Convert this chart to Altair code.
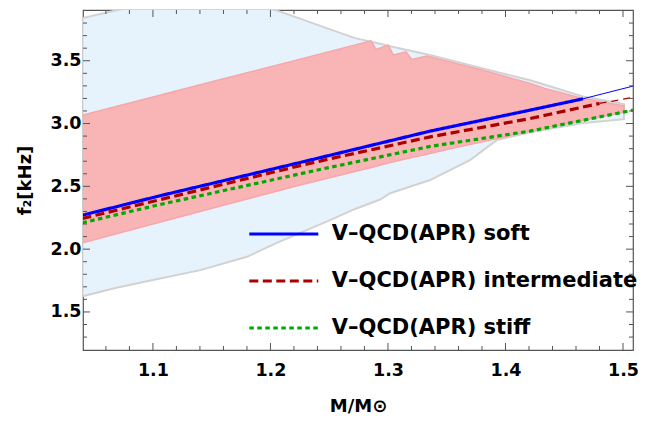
import altair as alt
import pandas as pd

FONT = "DejaVu Sans"
AX = "#555555"

X_DOMAIN = [1.0405, 1.5085]
Y_DOMAIN = [1.197, 3.904]

# light-blue region (lower / upper boundary at the same masses)
blue_M = [1.04, 1.068, 1.10, 1.1404, 1.18, 1.2054, 1.2253, 1.2508, 1.272, 1.2933,
          1.3018, 1.3358, 1.3698, 1.3925, 1.421, 1.466, 1.5008]
blue_lo = [1.625, 1.69, 1.755, 1.833, 1.939, 2.05, 2.13, 2.231, 2.32, 2.395,
           2.445, 2.55, 2.709, 2.868, 2.93, 3.005, 3.035]
blue_hi = [3.84, 3.90, 3.96, 3.99, 3.96, 3.90, 3.835, 3.75, 3.68, 3.635,
           3.615, 3.545, 3.465, 3.41, 3.345, 3.215, 3.155]

# pink band
red_M = [1.04, 1.10, 1.16, 1.2253, 1.2856, 1.2898, 1.3003, 1.3046, 1.3154, 1.3202,
         1.333, 1.353, 1.3785, 1.421, 1.4335, 1.466, 1.501]
red_lo = [2.05, 2.20, 2.35, 2.51, 2.65, 2.66, 2.685, 2.695, 2.72, 2.73,
          2.755, 2.80, 2.85, 2.94, 2.965, 3.025, 3.09]
red_hi = [3.067, 3.212, 3.356, 3.513, 3.658, 3.59, 3.624, 3.545, 3.571, 3.51,
          3.537, 3.49, 3.43, 3.32, 3.28, 3.20, 3.14]

series_names = ["V\u2013QCD(APR) soft", "V\u2013QCD(APR) intermediate", "V\u2013QCD(APR) stiff"]
series_colors = ["#0000ff", "#aa0000", "#00aa00"]
series_dash = [[1, 0], [9, 4.5], [4.5, 3.5]]

soft_M = [1.04, 1.106, 1.2253, 1.336, 1.421, 1.466]
soft_f = [2.27, 2.425, 2.69, 2.94, 3.107, 3.197]
soft_thin_M = [1.466, 1.5085]
soft_thin_f = [3.197, 3.298]

inter_M = [1.04, 1.2253, 1.251, 1.336, 1.421, 1.48]
inter_f = [2.244, 2.665, 2.72, 2.894, 3.04, 3.16]
inter_thin_M = [1.48, 1.5085]
inter_thin_f = [3.16, 3.208]

stiff_M = [1.04, 1.106, 1.2253, 1.251, 1.336, 1.421, 1.5085]
stiff_f = [2.21, 2.355, 2.6, 2.652, 2.818, 2.94, 3.107]

x_major = [1.1, 1.2, 1.3, 1.4, 1.5]
x_minor = [1.06, 1.08, 1.12, 1.14, 1.16, 1.18, 1.22, 1.24, 1.26, 1.28,
           1.32, 1.34, 1.36, 1.38, 1.42, 1.44, 1.46, 1.48]
y_major = [1.5, 2.0, 2.5, 3.0, 3.5]
y_minor = [1.3, 1.4, 1.6, 1.7, 1.8, 1.9, 2.1, 2.2, 2.3, 2.4, 2.6, 2.7, 2.8, 2.9,
           3.1, 3.2, 3.3, 3.4, 3.6, 3.7, 3.8]

W, H = 550, 340
MAJOR, MINOR = 7, 4

df_blue = pd.DataFrame({"M": blue_M, "lo": blue_lo, "hi": blue_hi})
df_red = pd.DataFrame({"M": red_M, "lo": red_lo, "hi": red_hi})

rows = []
for name, ms, fs in [(series_names[0], soft_M, soft_f),
                     (series_names[1], inter_M, inter_f),
                     (series_names[2], stiff_M, stiff_f)]:
    for m, f in zip(ms, fs):
        rows.append({"M": m, "f": f, "series": name})
df_thick = pd.DataFrame(rows)
df_soft_thin = pd.DataFrame({"M": soft_thin_M, "f": soft_thin_f})
df_inter_thin = pd.DataFrame({"M": inter_thin_M, "f": inter_thin_f})

xs = alt.Scale(domain=X_DOMAIN, nice=False, zero=False)
ys = alt.Scale(domain=Y_DOMAIN, nice=False, zero=False)

x_label_axis = alt.Axis(orient="bottom", values=x_major, format=".1f", ticks=False, tickSize=0,
                        domain=False, grid=False,
                        labelFont=FONT, labelFontWeight="bold", labelFontSize=17.5,
                        labelColor="black", labelPadding=11, labelFlush=False,
                        title="M/M\u2299", titleFont=FONT, titleFontWeight="bold",
                        titleFontSize=18, titleColor="black", titlePadding=19, zindex=2)
y_label_axis = alt.Axis(orient="left", values=y_major, format=".1f", ticks=False, tickSize=0,
                        domain=False, grid=False,
                        labelFont=FONT, labelFontWeight="bold", labelFontSize=17.5,
                        labelColor="black", labelPadding=2, labelFlush=False,
                        title="f\u2082[kHz]", titleFont=FONT, titleFontWeight="bold",
                        titleFontSize=18, titleColor="black", titlePadding=15, zindex=2)

blue_area = alt.Chart(df_blue).mark_area(
    fill="#e6f3fd", stroke="#d2d2d2", strokeWidth=2, clip=True
).encode(
    x=alt.X("M:Q", scale=xs, axis=x_label_axis),
    y=alt.Y("lo:Q", scale=ys, axis=y_label_axis),
    y2="hi:Q",
)

red_area = alt.Chart(df_red).mark_area(
    fill="#f9b4b6", stroke="#f7a7aa", strokeWidth=1.5, clip=True
).encode(
    x=alt.X("M:Q", scale=xs, axis=None),
    y=alt.Y("lo:Q", scale=ys, axis=None),
    y2="hi:Q",
)

leg = alt.Legend(title=None, orient="none", legendX=164.3, legendY=187.5, direction="vertical",
                 symbolType="stroke", symbolSize=4761, symbolStrokeWidth=3.2,
                 labelFont=FONT, labelFontSize=21, labelFontWeight="bold", labelColor="black",
                 labelOffset=11.5, labelLimit=400, rowPadding=-27, padding=0)

thick = alt.Chart(df_thick).mark_line(strokeWidth=3.2, clip=True).encode(
    x=alt.X("M:Q", scale=xs, axis=None),
    y=alt.Y("f:Q", scale=ys, axis=None),
    color=alt.Color("series:N", scale=alt.Scale(domain=series_names, range=series_colors),
                    legend=leg, sort=series_names),
    strokeDash=alt.StrokeDash("series:N", scale=alt.Scale(domain=series_names, range=series_dash),
                              legend=leg, sort=series_names),
    order="M:Q",
)

soft_thin = alt.Chart(df_soft_thin).mark_line(strokeWidth=1, color=series_colors[0], clip=True).encode(
    x=alt.X("M:Q", scale=xs, axis=None),
    y=alt.Y("f:Q", scale=ys, axis=None),
)
inter_thin = alt.Chart(df_inter_thin).mark_line(
    strokeWidth=1.2, color=series_colors[1], strokeDash=[7, 5], clip=True
).encode(
    x=alt.X("M:Q", scale=xs, axis=None),
    y=alt.Y("f:Q", scale=ys, axis=None),
)


# inward frame ticks (positions come from the tick-value lists through the scales)
def x_ticks(values, length, top):
    y0 = 0 if top else H
    y1 = length if top else H - length
    return alt.Chart(pd.DataFrame({"v": values})).mark_rule(color=AX, strokeWidth=1).encode(
        x=alt.X("v:Q", scale=xs, axis=None), y=alt.value(y0), y2=alt.value(y1))


def y_ticks(values, length, right):
    x0 = W if right else 0
    x1 = W - length if right else length
    return alt.Chart(pd.DataFrame({"v": values})).mark_rule(color=AX, strokeWidth=1).encode(
        y=alt.Y("v:Q", scale=ys, axis=None), x=alt.value(x0), x2=alt.value(x1))


ticks = [
    x_ticks(x_major, MAJOR, False), x_ticks(x_minor, MINOR, False),
    x_ticks(x_major, MAJOR, True), x_ticks(x_minor, MINOR, True),
    y_ticks(y_major, MAJOR, False), y_ticks(y_minor, MINOR, False),
    y_ticks(y_major, MAJOR, True), y_ticks(y_minor, MINOR, True),
]

chart = alt.layer(
    blue_area, red_area, thick, soft_thin, inter_thin, *ticks
).resolve_axis(
    x="independent", y="independent"
).properties(
    width=W, height=H,
    autosize=alt.AutoSizeParams(type="none"),
    padding={"left": 75, "top": 2, "right": 6, "bottom": 66},
    background="white",
).configure_view(stroke=AX, strokeWidth=1.2)

chart.save("out.html", embed_options={"renderer": "svg", "actions": False})
